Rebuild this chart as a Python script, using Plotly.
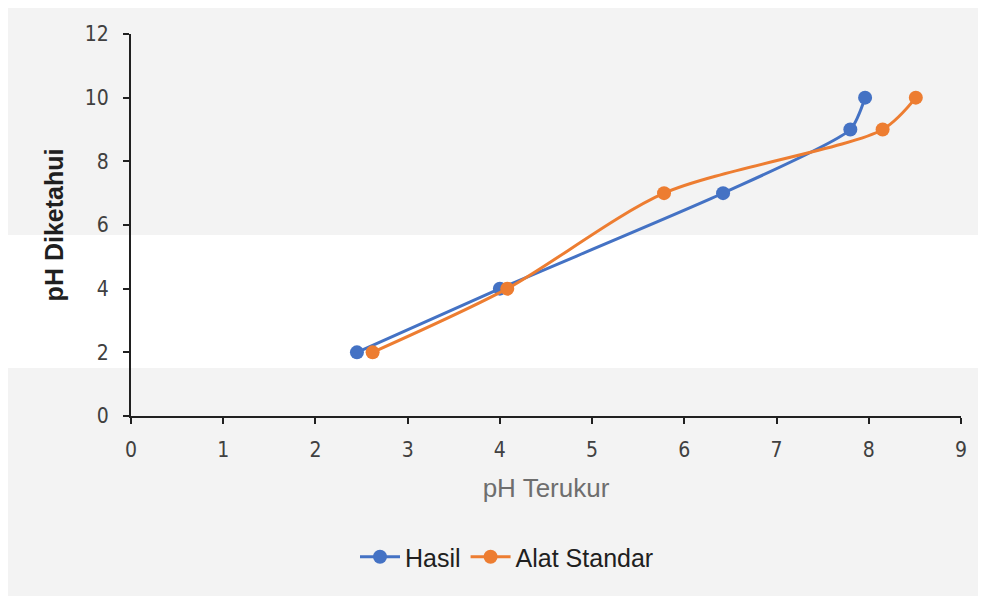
import plotly.graph_objects as go

hasil_x = [2.45, 4.0, 6.42, 7.80, 7.96]
hasil_y = [2, 4, 7, 9, 10]
std_x = [2.62, 4.08, 5.78, 8.15, 8.51]
std_y = [2, 4, 7, 9, 10]

x_ticks = list(range(0, 10))
y_ticks = list(range(0, 13, 2))

BLUE = "#4472C4"
ORANGE = "#ED7D31"
NARROW = "Liberation Sans Narrow, DejaVu Sans Condensed, sans-serif"
SANS = "Liberation Sans, Arial, sans-serif"
TICKFONT = dict(family=NARROW, size=21, color="#404040")

fig = go.Figure()
fig.add_trace(go.Scatter(x=hasil_x, y=hasil_y, mode="lines+markers", name="Hasil",
                         line=dict(color=BLUE, width=3, shape="spline", smoothing=0.6),
                         marker=dict(color=BLUE, size=14)))
fig.add_trace(go.Scatter(x=std_x, y=std_y, mode="lines+markers", name="Alat Standar",
                         line=dict(color=ORANGE, width=3, shape="spline", smoothing=0.8),
                         marker=dict(color=ORANGE, size=14)))

OFF = 8  # page body offset
L, R, T, B = 131 - OFF, 25, 34 - OFF, 180
W, H = 986 - OFF, 596 - OFF
pw, ph = W - L - R, H - T - B

def px(x):
    return (x - OFF - L) / pw

def py(y):
    return (H - B - (y - OFF)) / ph

shapes = [
    dict(type="rect", xref="paper", yref="paper", x0=px(8), x1=px(986), y0=py(368), y1=py(235),
         fillcolor="white", line=dict(width=0), layer="below"),
]

fig.update_layout(
    width=W, height=H,
    margin=dict(l=L, r=R, t=T, b=B),
    paper_bgcolor="#f3f3f3",
    plot_bgcolor="rgba(0,0,0,0)",
    shapes=shapes,
    showlegend=True,
    legend=dict(orientation="h", x=px(507), xanchor="center", y=py(557), yanchor="middle",
                font=dict(family=SANS, size=25, color="#202020"),
                bgcolor="rgba(0,0,0,0)", itemwidth=40),
    xaxis=dict(range=[0, 9], tickvals=x_ticks, showgrid=False, zeroline=False,
               showline=True, linecolor="#202020", linewidth=2, ticks="outside",
               tickcolor="#202020", ticklen=6, tickwidth=1.5, tickfont=TICKFONT,
               ticklabelstandoff=8,
               title=dict(text="pH Terukur", font=dict(family=SANS, size=26, color="#6e6e6e"), standoff=18)),
    yaxis=dict(range=[0, 12], tickvals=y_ticks, showgrid=False, zeroline=False,
               showline=True, linecolor="#202020", linewidth=2, ticks="outside",
               tickcolor="#202020", ticklen=6, tickwidth=1.5, tickfont=TICKFONT,
               ticklabelstandoff=10,
               title=dict(text="<b>pH Diketahui</b>", font=dict(family=SANS, size=25, color="#202020"), standoff=14)),
)

fig.write_html("out.html")
